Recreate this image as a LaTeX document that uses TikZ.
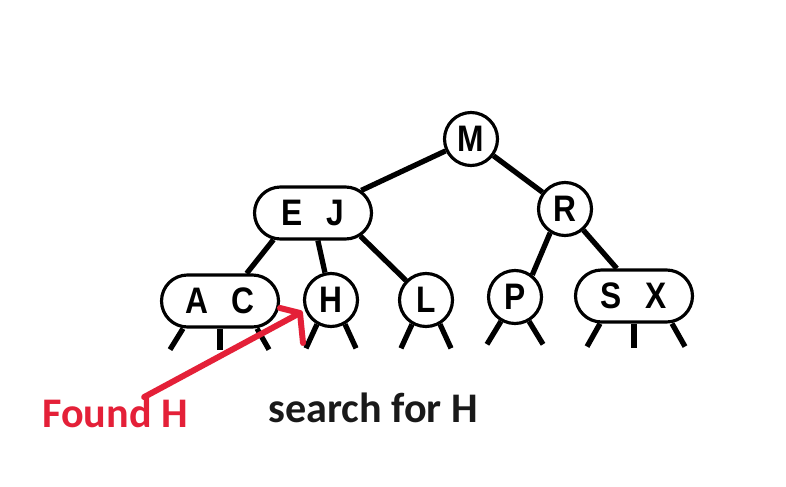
\documentclass[tikz,border=0pt]{standalone}
\usepackage{fontspec}
\setmainfont{Liberation Sans}
\newfontfamily\keyfamily[FakeStretch=0.86]{Liberation Sans}
\newfontfamily\lblfont{Carlito}
\usetikzlibrary{shapes.misc}
\definecolor{redarrow}{RGB}{228,32,56}
\newcommand{\gapk}{\hspace{0.65em}}
\begin{document}
\begin{tikzpicture}[x=0.02cm,y=-0.02cm,
  keyfont/.style={font=\keyfamily\fontsize{21}{24}\selectfont\bfseries},
  circ/.style={circle,draw,line width=1.8pt,minimum size=1.06cm,inner sep=0pt,keyfont},
  pair/.style={rounded rectangle,draw,line width=1.8pt,minimum width=2.34cm,minimum height=1.04cm,inner sep=0pt,keyfont},
  link/.style={line width=3pt},
  stub/.style={line width=3pt},
  lbl/.style={font=\lblfont\fontsize{24}{27}\selectfont\bfseries,inner sep=0pt,anchor=base west},
  redline/.style={line width=3.4pt,draw=redarrow,line join=round,line cap=round}]
\useasboundingbox[fill=white] (0,0) rectangle (786,486);
% nodes
\node[circ] (M) at (471,139) {M};
\node[circ] (R) at (565,209) {R};
\node[pair] (EJ) at (313,213) {E\gapk J};
\node[pair] (AC) at (220,301) {A\gapk C};
\node[circ] (H) at (331,300) {H};
\node[circ] (L) at (426,300) {L};
\node[circ] (P) at (515,297) {P};
\node[pair] (SX) at (634,296) {S\gapk X};
% links
\draw[link] (M) -- (EJ);
\draw[link] (M) -- (R);
\draw[link] (EJ.214) -- (AC.46);
\draw[link] (EJ.280) -- (H);
\draw[link] (EJ.-26) -- (L);
\draw[link] (R.238) -- (P.52);
\draw[link] (R.311) -- (SX.122);
% null links
\draw[stub] ([xshift=-0.74cm]AC.south) -- ++(-13,21);
\draw[stub] (AC.south) -- ++(0,21);
\draw[stub] ([xshift=0.74cm]AC.south) -- ++(12,21);
\draw[stub] (H.240) -- ++(-11,24);
\draw[stub] (H.300) -- ++(11,24);
\draw[stub] (L.240) -- ++(-11,24);
\draw[stub] (L.300) -- ++(11,24);
\draw[stub] (P.240) -- ++(-14,23);
\draw[stub] (P.300) -- ++(14,23);
\draw[stub] ([xshift=-0.68cm]SX.south) -- ++(-13,23);
\draw[stub] (SX.south) -- ++(0,24);
\draw[stub] ([xshift=0.76cm]SX.south) -- ++(13,23);
% labels
\node[lbl,text=redarrow] (found) at (42,427) {Found H};
\node[lbl,text=black!90] (search) at (268,422) {search for H};
% red arrow
\coordinate (tip) at (300,313);
\draw[redline] ([xshift=0.58cm]found.north) -- (tip);
\draw[redline] (tip) ++(-20,-5) -- (tip) -- ++(3,30);
\end{tikzpicture}
\end{document}
